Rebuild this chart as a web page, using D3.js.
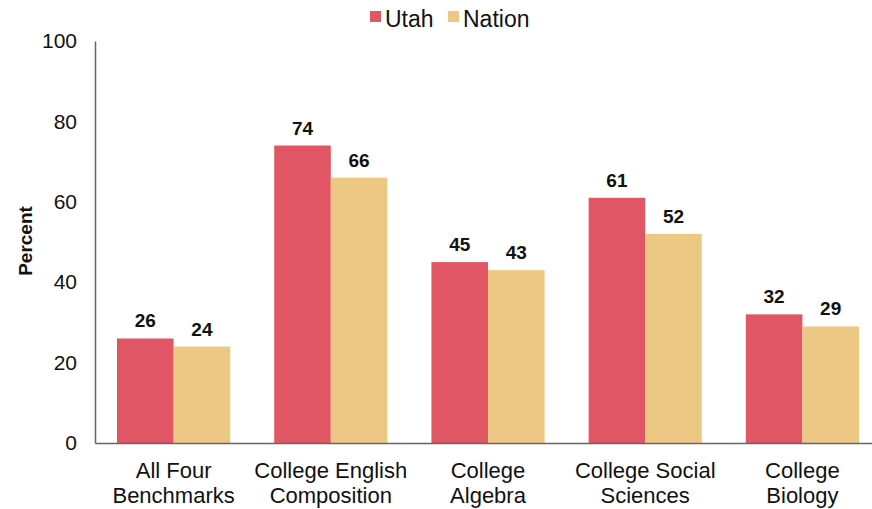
<!DOCTYPE html>
<html>
<head>
<meta charset="utf-8">
<script src="https://cdn.jsdelivr.net/npm/d3@7"></script>
<style>
  body { margin: 0; background: #fff; }
  svg { display: block; font-family: "Liberation Sans", Arial, sans-serif; }
</style>
</head>
<body>
<svg id="chart" width="872" height="509"></svg>
<script>
// data
const categories = [
    ["All Four", "Benchmarks"],
    ["College English", "Composition"],
    ["College", "Algebra"],
    ["College Social", "Sciences"],
    ["College", "Biology"]
];
const seriesNames = ["Utah", "Nation"];
const utah = [26, 74, 45, 61, 32];
const nation = [24, 66, 43, 52, 29];
const yTicks = [0, 20, 40, 60, 80, 100];
const colors = ["#E05664", "#ECC884"];

const svg = d3.select("#chart");

// plot edges
const plotLeft = 95, plotRight = 881, plotTop = 41, plotBottom = 443;

const x = d3.scaleBand()
    .domain(d3.range(categories.length))
    .range([plotLeft, plotRight])
    .paddingInner(0.28)
    .paddingOuter(0.14);

const xs = d3.scaleBand()
    .domain(seriesNames)
    .range([0, x.bandwidth()]);

const y = d3.scaleLinear()
    .domain([0, 100])
    .range([plotBottom, plotTop]);

// bars + value labels
const values = [utah, nation];
const groups = svg.selectAll("g.cat")
    .data(d3.range(categories.length))
    .enter()
    .append("g")
    .attr("class", "cat")
    .attr("transform", i => `translate(${x(i)},0)`);

seriesNames.forEach((name, s) => {
    groups.append("rect")
        .attr("x", xs(name))
        .attr("width", xs.bandwidth())
        .attr("y", i => y(values[s][i]))
        .attr("height", i => y(0) - y(values[s][i]))
        .attr("fill", colors[s]);

    groups.append("text")
        .attr("x", xs(name) + xs.bandwidth() / 2)
        .attr("y", i => y(values[s][i]) - 11)
        .attr("text-anchor", "middle")
        .attr("font-size", "19px")
        .attr("font-weight", "bold")
        .attr("fill", "#111")
        .text(i => values[s][i]);
});

// y axis (line + labels, no ticks)
const yAxis = svg.append("g")
    .attr("transform", `translate(${plotLeft},0)`)
    .call(d3.axisLeft(y).tickValues(yTicks).tickSize(0).tickPadding(18));
yAxis.select(".domain").attr("stroke", "#666").attr("stroke-width", 1.5);
yAxis.selectAll("text")
    .attr("font-size", "21px")
    .attr("font-family", "Liberation Sans, Arial, sans-serif")
    .attr("fill", "#111");

// x axis
const xAxis = svg.append("g")
    .attr("transform", `translate(0,${plotBottom})`)
    .call(d3.axisBottom(x).tickSize(0).tickFormat(""));
xAxis.select(".domain").attr("stroke", "#666").attr("stroke-width", 1.5);

xAxis.selectAll(".tick text").remove();
xAxis.selectAll(".tick").append("text")
    .attr("text-anchor", "middle")
    .attr("fill", "#111")
    .attr("font-size", "22px")
    .attr("font-family", "Liberation Sans, Arial, sans-serif")
    .selectAll("tspan")
    .data(i => categories[i])
    .enter()
    .append("tspan")
    .attr("x", 0)
    .attr("y", (d, k) => 35 + k * 25)
    .text(d => d);

// y title
svg.append("text")
    .attr("transform", "translate(32,241) rotate(-90)")
    .attr("text-anchor", "middle")
    .attr("font-size", "19px")
    .attr("font-weight", "bold")
    .attr("fill", "#111")
    .text("Percent");

// legend
const legendX = [370, 448];
seriesNames.forEach((name, s) => {
    svg.append("rect")
        .attr("x", legendX[s])
        .attr("y", 11)
        .attr("width", 11)
        .attr("height", 11)
        .attr("fill", colors[s]);
    svg.append("text")
        .attr("x", legendX[s] + 15)
        .attr("y", 27)
        .attr("font-size", "23px")
        .attr("fill", "#111")
        .text(name);
});
</script>
</body>
</html>
